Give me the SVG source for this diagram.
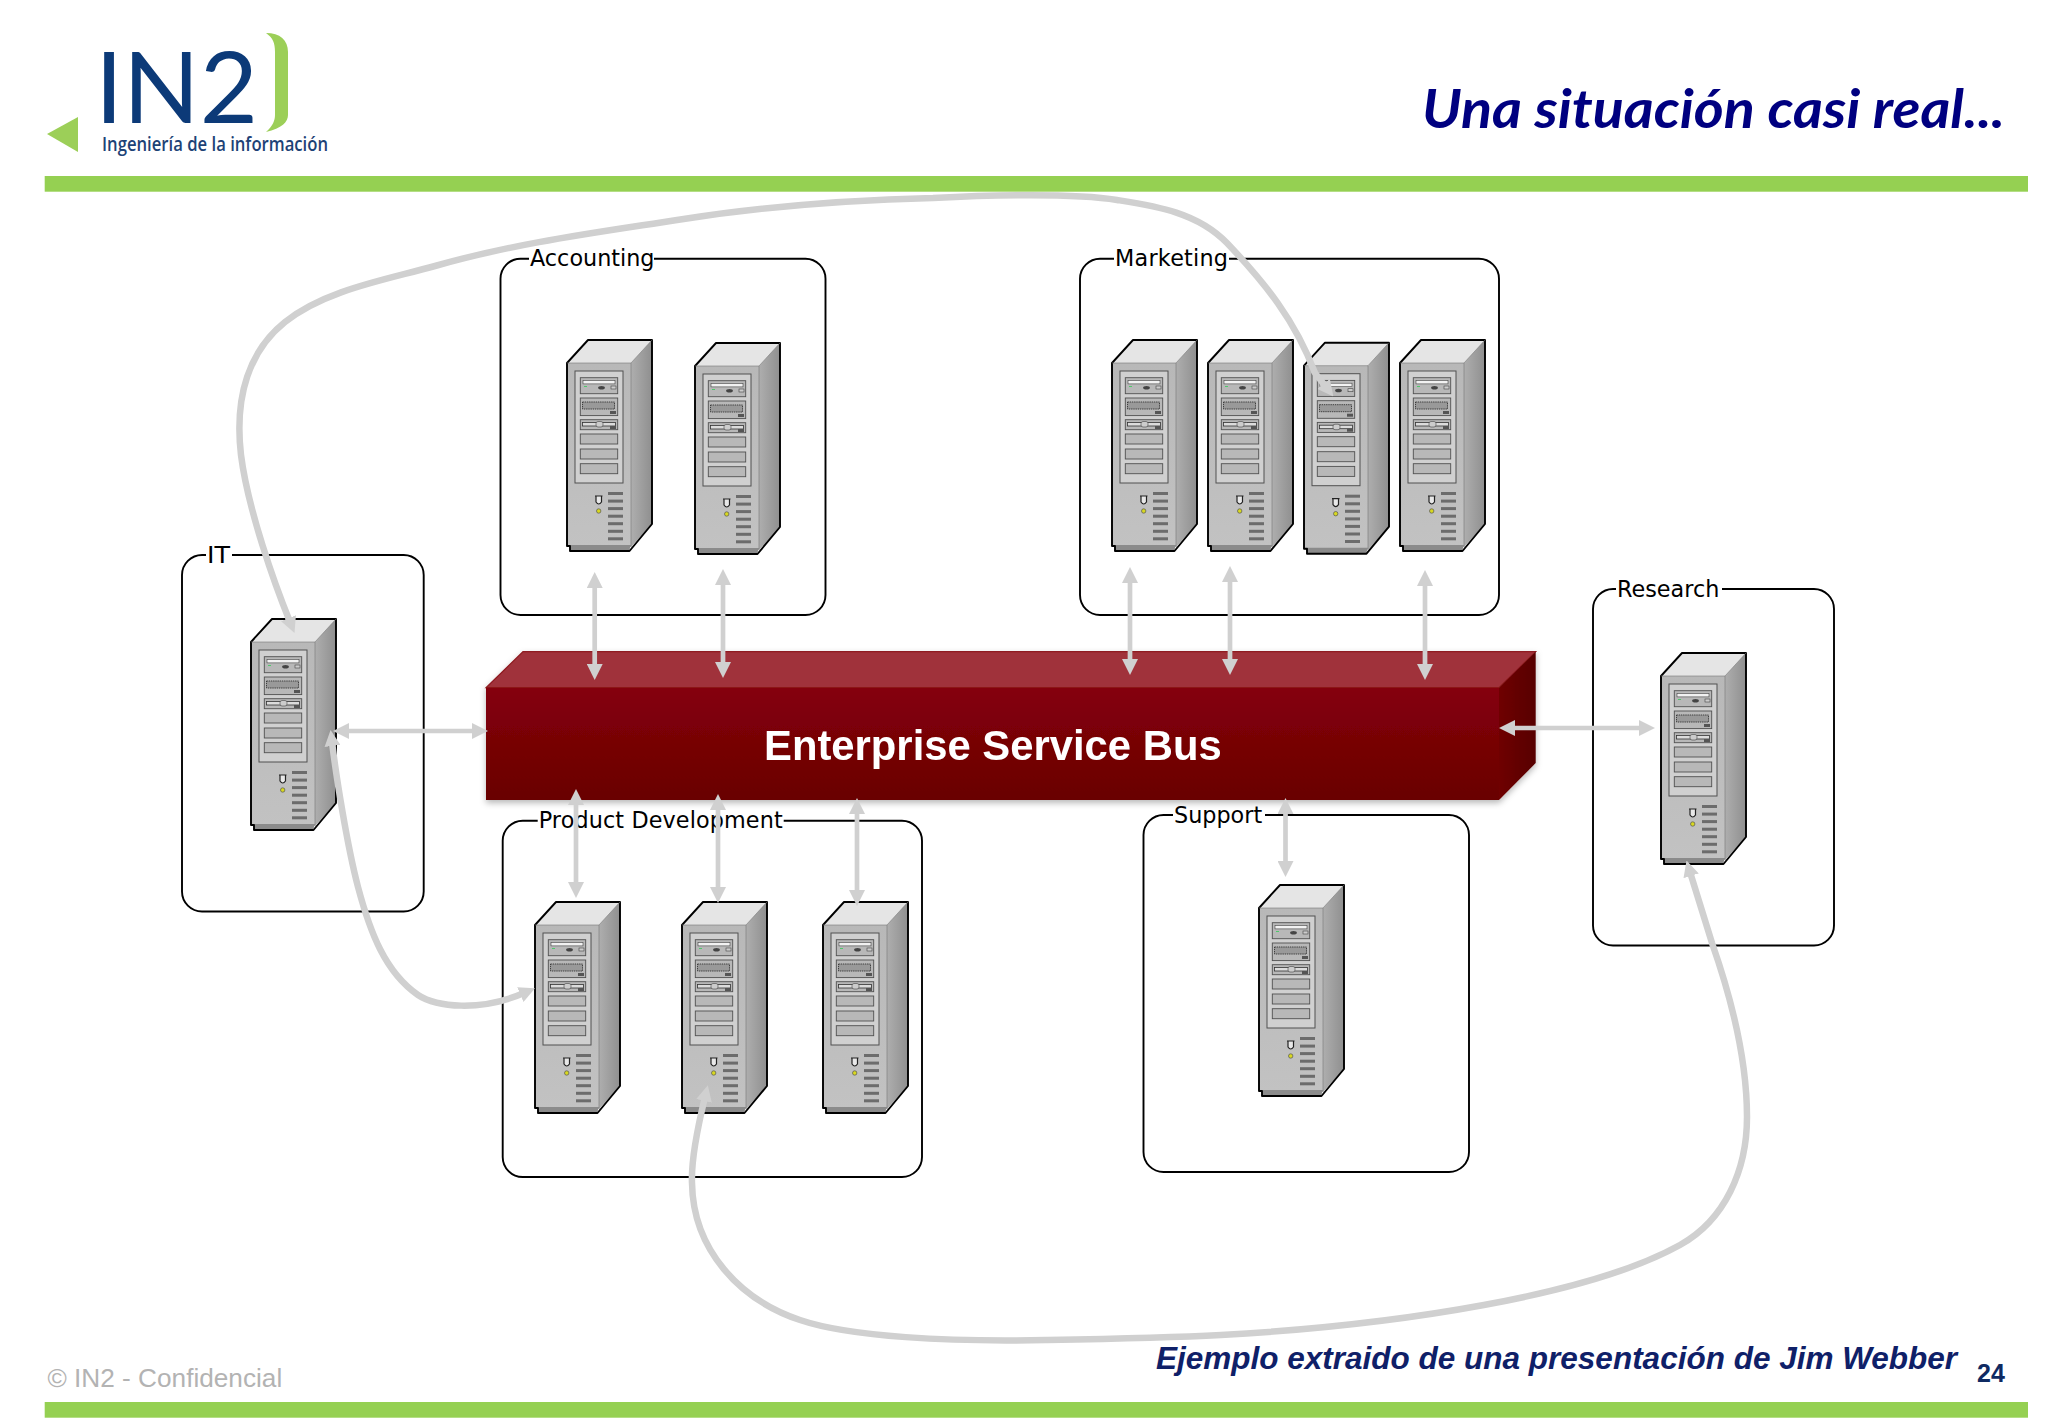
<svg xmlns="http://www.w3.org/2000/svg" width="2048" height="1418" viewBox="0 0 2048 1418">
<style>
.box{fill:none;stroke:#000;stroke-width:1.9}
.lab{font-family:"DejaVu Sans",Verdana,sans-serif;font-size:22.3px;fill:#000}
.lbg{fill:#fff}
.con{fill:none;stroke:#d0d0d0}
.st{stroke-width:4.7}
.cu{stroke-width:6.5}
.bar{fill:#95d052}
.bay{fill:#b8b8b8;stroke:#505050;stroke-width:.9}
.vent{fill:#6c6c6c}
</style>
<defs>
<marker id="ah" viewBox="0 0 16 16" refX="4" refY="8" markerWidth="16" markerHeight="16" markerUnits="userSpaceOnUse" orient="auto-start-reverse"><path d="M0,0L16,8L0,16Z" fill="#d0d0d0"/></marker>
<linearGradient id="sideG" x1="0" y1="0" x2="1" y2="0"><stop offset="0" stop-color="#aeaeae"/><stop offset="1" stop-color="#8f8f8f"/></linearGradient>
<linearGradient id="frontG" x1="0" y1="0" x2="0" y2="1"><stop offset="0" stop-color="#b8b8b8"/><stop offset="1" stop-color="#c2c2c2"/></linearGradient>
<linearGradient id="esbF" x1="0" y1="0" x2="0" y2="1"><stop offset="0" stop-color="#85000a"/><stop offset="1" stop-color="#690001"/></linearGradient>
<linearGradient id="esbR" x1="0" y1="0" x2="1" y2="0"><stop offset="0" stop-color="#6f0006"/><stop offset="1" stop-color="#570002"/></linearGradient>
<filter id="sh" x="-5%" y="-10%" width="110%" height="125%"><feDropShadow dx="0" dy="3" stdDeviation="3" flood-color="#000" flood-opacity=".28"/></filter>
<g id="server">
<polygon points="0,23 21,0 85,0 64,23" fill="#e5e5e5"/>
<polygon points="64,23 85,0 85,184 64,207" fill="url(#sideG)"/>
<rect x="0" y="23" width="64" height="184" fill="url(#frontG)"/>
<polygon points="3,205 64,205 62,211 3,211" fill="#8b8b8b"/>
<rect x="8" y="31" width="48" height="112" fill="#d0d0d0" stroke="#505050"/>
<rect class="bay" x="13.3" y="37.7" width="37.4" height="16"/>
<rect x="16" y="40.5" width="32" height="3.4" fill="#f2f2f2" stroke="#444" stroke-width=".6"/>
<rect x="44" y="46" width="5" height="3" fill="#ccc" stroke="#444" stroke-width=".6"/>
<ellipse cx="34.5" cy="47.8" rx="3.4" ry="1.8" fill="#444"/>
<rect x="17" y="46" width="3" height="1" fill="#4ec96a"/>
<rect class="bay" x="13.3" y="58" width="37.4" height="17.6"/>
<rect x="15.5" y="62" width="32" height="7" fill="#999" stroke="#333" stroke-width=".9" stroke-dasharray="1.4 .8"/>
<rect x="43" y="71" width="6" height="3" fill="#555"/>
<rect class="bay" x="13.3" y="79.7" width="37.4" height="10"/>
<rect x="15.5" y="82.5" width="33" height="3.5" fill="#dcdcdc" stroke="#333" stroke-width=".8"/>
<rect x="29" y="81.5" width="7" height="5.5" rx="2" fill="#ccc" stroke="#444" stroke-width=".6"/>
<rect x="43" y="86" width="6" height="3" fill="#555"/>
<rect class="bay" x="13.3" y="94" width="37.4" height="10"/>
<rect class="bay" x="13.3" y="109" width="37.4" height="10"/>
<rect class="bay" x="13.3" y="123.7" width="37.4" height="10"/>
<rect class="vent" x="41" y="152" width="15" height="3"/>
<rect class="vent" x="41" y="159.6" width="15" height="3"/>
<rect class="vent" x="41" y="167.1" width="15" height="3"/>
<rect class="vent" x="41" y="174.7" width="15" height="3"/>
<rect class="vent" x="41" y="182.2" width="15" height="3"/>
<rect class="vent" x="41" y="189.8" width="15" height="3"/>
<rect class="vent" x="41" y="197.3" width="15" height="3"/>
<path d="M28,156H35.5M29,156V162Q31.7,166 34.5,162V156" fill="#e8e8e8" stroke="#222" stroke-width="1.2"/>
<circle cx="31.7" cy="171" r="2.2" fill="#d8d820" stroke="#555" stroke-width=".7"/>
<path d="M0,23L21,0H85V184L62.5,211H3V206H0Z" fill="none" stroke="#000" stroke-width="1.9" stroke-linejoin="round"/>
<path d="M0,23H64V207M85,0L64,23" fill="none" stroke="#777" stroke-width=".6"/>
</g>
</defs>
<rect width="2048" height="1418" fill="#fff"/>

<g id="logo">
<polygon points="47,134 78,117 78,152" fill="#9ccf58"/>
<path d="M266,33C280,33 288,40 288,52V115C288,122 282,128 266,132C273,126 275,120 275,115V52C275,43 273,38 266,33Z" fill="#9ccf58"/>
<text x="95" y="123" font-family="Lato,sans-serif" font-size="98" fill="#0c3a78" textLength="163" lengthAdjust="spacingAndGlyphs">IN2</text>
<text x="102" y="151" font-family="'Open Sans',sans-serif" font-weight="600" font-size="20" fill="#1d4276" textLength="226" lengthAdjust="spacingAndGlyphs">Ingeniería de la información</text>
</g>
<g id="header">
<text x="1422" y="128" font-family="Lato,sans-serif" font-weight="700" font-style="italic" font-size="53" fill="#000080" textLength="583" lengthAdjust="spacingAndGlyphs">Una situación casi real...</text>
<rect class="bar" x="44.7" y="176" width="1983.3" height="15.7"/>
</g>

<g id="accounting">
<rect class="box" x="500.5" y="258.7" width="325" height="356.3" rx="20"/>
<rect class="lbg" x="529" y="250" width="125" height="18"/>
<text class="lab" x="530" y="266">Accounting</text>
<use href="#server" x="567" y="340"/>
<use href="#server" x="695" y="343"/>
</g>
<g id="marketing">
<rect class="box" x="1080" y="258.7" width="419" height="356.3" rx="20"/>
<rect class="lbg" x="1114" y="250" width="115" height="18"/>
<text class="lab" x="1115" y="266" textLength="113">Marketing</text>
<use href="#server" x="1112" y="340"/>
<use href="#server" x="1208" y="340"/>
<use href="#server" x="1304" y="342.7"/>
<use href="#server" x="1400" y="340"/>
</g>
<g id="it">
<rect class="box" x="182" y="555" width="241.7" height="356.5" rx="20"/>
<rect class="lbg" x="206" y="546" width="26" height="18"/>
<text class="lab" x="207" y="563" textLength="23" lengthAdjust="spacingAndGlyphs">IT</text>
<use href="#server" x="251" y="619"/>
</g>
<g id="research">
<rect class="box" x="1593" y="589" width="241" height="356.5" rx="20"/>
<rect class="lbg" x="1616" y="580" width="106" height="18"/>
<text class="lab" x="1617" y="596.5">Research</text>
<use href="#server" x="1661" y="653"/>
</g>
<g id="product-development">
<rect class="box" x="502.7" y="820.7" width="419.3" height="356.3" rx="20"/>
<rect class="lbg" x="537.7" y="812" width="246" height="18"/>
<text class="lab" x="538.7" y="827.5" textLength="244">Product Development</text>
<use href="#server" x="535" y="902"/>
<use href="#server" x="682" y="902"/>
<use href="#server" x="823" y="902"/>
</g>
<g id="support">
<rect class="box" x="1143.5" y="815" width="325.5" height="357" rx="20"/>
<rect class="lbg" x="1173" y="806" width="92" height="18"/>
<text class="lab" x="1174" y="822.5">Support</text>
<use href="#server" x="1259" y="885"/>
</g>

<g id="esb" filter="url(#sh)">
<polygon points="486,687.7 523,651.7 1535.7,651.7 1499,687.7" fill="#a0333a" stroke="#8f1a20" stroke-width="1.2"/>
<polygon points="1499,687.7 1535.7,651.7 1535.7,763 1499,800" fill="url(#esbR)"/>
<rect x="486" y="687.7" width="1013" height="112.3" fill="url(#esbF)"/>
<text x="764" y="760" font-family="'Liberation Sans',Arial,sans-serif" font-weight="700" font-size="41.8" fill="#fff">Enterprise Service Bus</text>
</g>

<g id="connectors">
<line class="con st" x1="594.7" y1="584" x2="594.7" y2="668" marker-start="url(#ah)" marker-end="url(#ah)"/>
<line class="con st" x1="723" y1="581" x2="723" y2="666" marker-start="url(#ah)" marker-end="url(#ah)"/>
<line class="con st" x1="1130" y1="579" x2="1130" y2="663" marker-start="url(#ah)" marker-end="url(#ah)"/>
<line class="con st" x1="1230" y1="578" x2="1230" y2="663" marker-start="url(#ah)" marker-end="url(#ah)"/>
<line class="con st" x1="1425" y1="582" x2="1425" y2="668" marker-start="url(#ah)" marker-end="url(#ah)"/>
<line class="con st" x1="576" y1="801" x2="576" y2="886" marker-start="url(#ah)" marker-end="url(#ah)"/>
<line class="con st" x1="718" y1="806" x2="718" y2="891" marker-start="url(#ah)" marker-end="url(#ah)"/>
<line class="con st" x1="857" y1="810" x2="857" y2="894" marker-start="url(#ah)" marker-end="url(#ah)"/>
<line class="con st" x1="1285.5" y1="810" x2="1285.5" y2="865" marker-start="url(#ah)" marker-end="url(#ah)"/>
<line class="con st" x1="345" y1="731" x2="476" y2="731" marker-start="url(#ah)" marker-end="url(#ah)"/>
<line class="con st" x1="1511" y1="728" x2="1643" y2="728" marker-start="url(#ah)" marker-end="url(#ah)"/>
<path class="con cu" d="M290,622C275,585 248,510 241,455C234,395 250,350 285,322C325,290 385,280 435,266C515,243 600,232 677,220C765,206 850,200 933,198C990,195 1075,193 1117,200C1155,206 1197,212 1227,243C1265,283 1295,320 1315,373L1326,387" marker-start="url(#ah)" marker-end="url(#ah)"/>
<path class="con cu" d="M332,742C336,775 347,845 358,887C370,932 385,972 418,995C436,1007 480,1012 524,993" marker-start="url(#ah)" marker-end="url(#ah)"/>
<path class="con cu" d="M705,1097C697,1130 691,1160 692,1183C693,1250 740,1300 800,1320C850,1337 950,1342 1046,1340C1105,1339 1165,1338 1221,1335C1400,1325 1590,1295 1680,1245C1725,1220 1747,1170 1747,1117C1747,1060 1732,1000 1712,943C1705,920 1697,895 1690,872" marker-start="url(#ah)" marker-end="url(#ah)"/>
</g>

<g id="footer">
<text x="47.5" y="1387" font-family="'Liberation Sans',Arial,sans-serif" font-size="26.2" fill="#b3b3b3">© IN2 - Confidencial</text>
<text x="1156" y="1369" font-family="'Liberation Sans',Arial,sans-serif" font-weight="700" font-style="italic" font-size="31.5" fill="#0f2068">Ejemplo extraido de una presentación de Jim Webber</text>
<text x="1977" y="1382" font-family="'Liberation Sans',Arial,sans-serif" font-weight="700" font-size="25" fill="#0f2a62">24</text>
<rect class="bar" x="44.7" y="1402" width="1983.3" height="15.7"/>
</g>
</svg>
